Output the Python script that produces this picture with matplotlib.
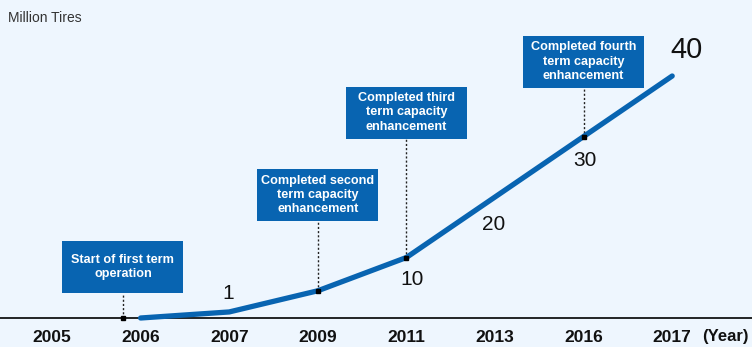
import matplotlib.pyplot as plt
from matplotlib.patches import Rectangle

# categories on the x axis (evenly spaced, not to scale)
years = ['2005', '2006', '2007', '2009', '2011', '2013', '2016', '2017']

# production capacity, million tires
line_years = ['2006', '2007', '2009', '2011', '2013', '2016', '2017']
capacity = [0, 1, 4.5, 10, 20, 30, 40]

# capacity values printed next to the line
label_years = ['2007', '2011', '2013', '2016', '2017']
label_values = [1, 10, 20, 30, 40]

# milestone call-outs
milestones = ['Start of first term\noperation',
              'Completed second\nterm capacity\nenhancement',
              'Completed third\nterm capacity\nenhancement',
              'Completed fourth\nterm capacity\nenhancement']
milestone_years = ['2006', '2009', '2011', '2016']

BG = '#eef6fe'
BLUE = '#0864b1'
H = 347  # figure height in px

fig = plt.figure(figsize=(7.52, 3.47), dpi=100, facecolor=BG)
ax = fig.add_axes([0, 0, 1, 1])
ax.set_facecolor(BG)
for s in ax.spines.values():
    s.set_visible(False)
ax.set_xticks([])
ax.set_yticks([])

# 88.6 px per category, 6.05 px per million tires
ax.set_xlim(-52 / 88.6, 700 / 88.6)
ax.set_ylim(-29 / 6.05, 318 / 6.05)

pos = {y: i for i, y in enumerate(years)}
xs = [pos[y] for y in line_years]

ax.axhline(0, color='black', lw=1.2, zorder=2)
ax.plot(xs, capacity, color=BLUE, lw=3.8, solid_capstyle='round',
        solid_joinstyle='round', zorder=3)

# year labels under the baseline
for i, y in enumerate(years):
    ax.text(i, -19 / 6.05, y, ha='center', va='center', fontsize=12.5,
            fontweight='bold', family='Liberation Sans', color='#111111')
ax.text(7.6, -19 / 6.05, '(Year)', ha='center', va='center', fontsize=12,
        fontweight='bold', family='Liberation Sans', color='#111111')

ax.text(8, H - 18, 'Million Tires', transform=None, ha='left', va='center',
        fontsize=10, family='Liberation Sans', color='#333333')

# value labels, offsets in points
offsets = {1: (-1, 13), 10: (4, -16), 20: (-1, -19.5), 30: (1, -17), 40: (10, 19)}
for y, v in zip(label_years, label_values):
    x = pos[y]
    val = capacity[line_years.index(y)]
    dx, dy = offsets[v]
    ax.annotate(str(v), (x, val), xytext=(dx, dy), textcoords='offset points',
                ha='center', va='center', family='Liberation Sans',
                fontsize=21 if v == 40 else 15, color='#111111')

# call-out boxes: gap (px) between anchor and box bottom
gaps = [25, 70, 119, 49]
anchor_dx = [-0.2, 0, 0, 0]
fig.canvas.draw()
for text, y, gap, ddx in zip(milestones, milestone_years, gaps, anchor_dx):
    x = pos[y] + ddx
    val = capacity[line_years.index(y)] if ddx == 0 else 0
    px, py = ax.transData.transform((x, val))
    ax.plot([x, x], [val, val + gap / 6.05], color='#222222', lw=1,
            ls=(0, (1.5, 1.5)), zorder=2)
    ax.plot([x], [val], marker='s', ms=2.5, color='black', zorder=4)
    w, h = 121, 52
    ax.add_patch(Rectangle((px - w / 2, py + gap), w, h, transform=None,
                           facecolor=BLUE, edgecolor='none', zorder=5))
    ax.text(px, py + gap + h / 2, text, transform=None, ha='center',
            va='center', color='white', fontsize=9.1, fontweight='bold',
            family='Liberation Sans', linespacing=1.25, zorder=6)

fig.savefig('out.png', dpi=100, facecolor=BG)
